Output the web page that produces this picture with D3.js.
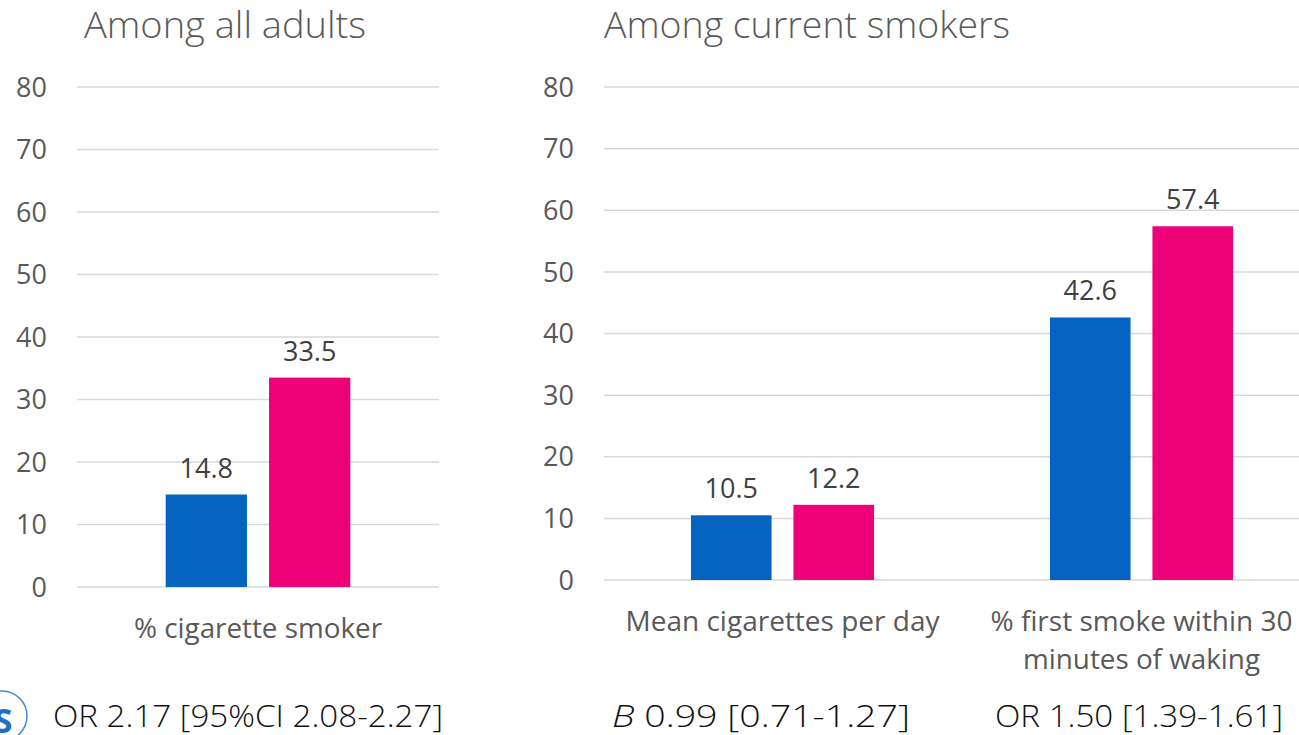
<!DOCTYPE html>
<html>
<head>
<meta charset="utf-8">
<script src="https://cdn.jsdelivr.net/npm/d3@7"></script>
<style>
  html, body { margin: 0; padding: 0; background: #fff; }
  svg { display: block; font-family: "Open Sans", "Noto Sans", sans-serif; }
</style>
</head>
<body>
<svg id="chart" width="1299" height="735"></svg>
<script>
// Series order: first bar (blue), second bar (pink)
const seriesKeys = ["group1", "group2"];
const seriesColors = ["#0563c1", "#ee0078"];

// Panel 1: among all adults
const adultCategories = ["% cigarette smoker"];
const adultGroup1 = [14.8];
const adultGroup2 = [33.5];

// Panel 2: among current smokers
const smokerCategories = ["Mean cigarettes per day", "% first smoke within 30 minutes of waking"];
const smokerGroup1 = [10.5, 42.6];
const smokerGroup2 = [12.2, 57.4];

const yTicks = [0, 10, 20, 30, 40, 50, 60, 70, 80];

const svg = d3.select("#chart");
const textColor = "#595959";

function drawPanel(opts) {
  const { categories, g1, g2, xRange, yRange, gridRange, tickX, title, titleX, titleLen, labelLines } = opts;
  const rows = categories.map((c, i) => ({ cat: c, values: [g1[i], g2[i]] }));

  const y = d3.scaleLinear().domain([0, 80]).range(yRange);
  const x0 = d3.scaleBand().domain(categories).range(xRange)
    .paddingInner(0.49).paddingOuter(0.245);
  const x1 = d3.scaleBand().domain(seriesKeys).range([0, x0.bandwidth()])
    .paddingInner(0.2136).paddingOuter(0);

  const g = svg.append("g");

  // gridlines
  g.selectAll("line.grid").data(yTicks).join("line")
    .attr("x1", gridRange[0]).attr("x2", gridRange[1])
    .attr("y1", d => y(d)).attr("y2", d => y(d))
    .attr("stroke", "#d9d9d9").attr("stroke-width", 1.5);

  // tick labels
  g.selectAll("text.tick").data(yTicks).join("text")
    .attr("x", tickX).attr("y", d => y(d))
    .attr("dy", "0.36em")
    .attr("text-anchor", "end")
    .attr("fill", textColor)
    .attr("font-size", 27)
    .text(d => d);

  // bars
  const cat = g.selectAll("g.cat").data(rows).join("g")
    .attr("transform", d => `translate(${x0(d.cat)},0)`);

  const bars = cat.selectAll("g.bar")
    .data(d => d.values.map((v, i) => ({ key: seriesKeys[i], v, i })))
    .join("g");

  bars.append("rect")
    .attr("x", d => x1(d.key))
    .attr("width", x1.bandwidth())
    .attr("y", d => y(d.v))
    .attr("height", d => y(0) - y(d.v))
    .attr("fill", d => seriesColors[d.i]);

  bars.append("text")
    .attr("x", d => x1(d.key) + x1.bandwidth() / 2)
    .attr("y", d => y(d.v) - 17)
    .attr("text-anchor", "middle")
    .attr("fill", "#404040")
    .attr("font-size", 27)
    .text(d => d.v.toFixed(1));

  // category labels
  rows.forEach((r, i) => {
    const cx = x0(r.cat) + x0.bandwidth() / 2;
    labelLines[i].forEach((ln, j) => {
      g.append("text")
        .attr("x", cx).attr("y", ln.y)
        .attr("text-anchor", "middle")
        .attr("fill", textColor)
        .attr("font-size", 28)
        .attr("textLength", ln.w).attr("lengthAdjust", "spacingAndGlyphs")
        .text(ln.t);
    });
  });

  // panel title
  svg.append("text")
    .attr("x", titleX).attr("y", 38)
    .attr("fill", textColor)
    .attr("font-size", 36)
    .attr("font-weight", 300)
    .attr("textLength", titleLen).attr("lengthAdjust", "spacingAndGlyphs")
    .text(title);
}

drawPanel({
  categories: adultCategories, g1: adultGroup1, g2: adultGroup2,
  xRange: [77, 439], yRange: [587, 87], gridRange: [77, 439], tickX: 47,
  title: "Among all adults", titleX: 84, titleLen: 282,
  labelLines: [[{ t: "% cigarette smoker", y: 638, w: 248 }]]
});

drawPanel({
  categories: smokerCategories, g1: smokerGroup1, g2: smokerGroup2,
  xRange: [603, 1321], yRange: [580, 87], gridRange: [604, 1299], tickX: 574,
  title: "Among current smokers", titleX: 604, titleLen: 406,
  labelLines: [
    [{ t: "Mean cigarettes per day", y: 631, w: 314 }],
    [{ t: "% first smoke within 30", y: 631, w: 302 }, { t: "minutes of waking", y: 669, w: 237 }]
  ]
});

// effect-size annotations under each group of bars
const footer = svg.append("g").attr("fill", "#111").attr("font-size", 32).attr("font-weight", 300);
footer.append("text").attr("x", 53).attr("y", 727)
  .attr("textLength", 390).attr("lengthAdjust", "spacingAndGlyphs")
  .text("OR 2.17 [95%CI 2.08-2.27]");
const bText = footer.append("text").attr("x", 612).attr("y", 727)
  .attr("textLength", 298).attr("lengthAdjust", "spacingAndGlyphs");
bText.append("tspan").attr("font-style", "italic").text("B");
bText.append("tspan").text(" 0.99 [0.71-1.27]");
footer.append("text").attr("x", 995).attr("y", 727)
  .attr("textLength", 288).attr("lengthAdjust", "spacingAndGlyphs")
  .text("OR 1.50 [1.39-1.61]");

// corner logo ring with its letter, clipped at the page edge
const logo = svg.append("g");
logo.append("circle").attr("cx", 2).attr("cy", 716).attr("r", 25)
  .attr("fill", "none").attr("stroke", "#3d87d4").attr("stroke-width", 1.5);
logo.append("text").attr("x", 3).attr("y", 733)
  .attr("text-anchor", "middle")
  .attr("font-size", 34).attr("font-weight", 700)
  .attr("fill", "#1f6fc5").text("S");
</script>
</body>
</html>
